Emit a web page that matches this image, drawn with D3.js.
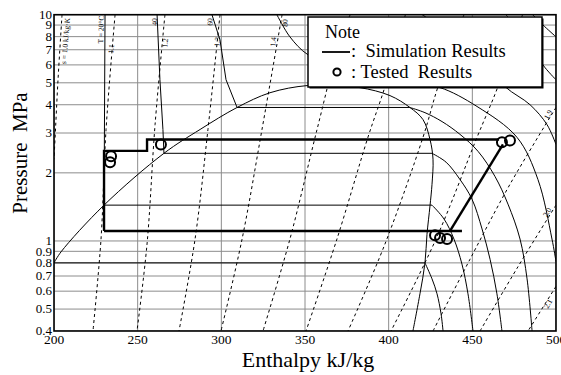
<!DOCTYPE html>
<html>
<head>
<meta charset="utf-8">
<script src="https://cdn.jsdelivr.net/npm/d3@7"></script>
<style>
  body { margin: 0; background: #fff; }
  svg text { font-family: "Liberation Serif", "Times New Roman", serif; fill: #000; }
</style>
</head>
<body>
<svg id="chart" width="561" height="375" font-family="Liberation Serif"></svg>
<script>
// ---- axes ----
const hTicks = [200, 250, 300, 350, 400, 450, 500];
const pTicks = [0.4, 0.5, 0.6, 0.7, 0.8, 0.9, 1, 2, 3, 4, 5, 6, 7, 8, 9, 10];

// ---- saturation dome [h kJ/kg, P MPa] ----
const satLiquid = [[200, 0.80], [204.2, 0.895], [229.9, 1.44], [265.7, 2.44], [287.3, 3.11],
  [309.4, 3.89], [329.1, 4.52], [351.2, 4.86], [367.9, 4.83]];
const satVapor = [[367.9, 4.83], [382.9, 4.76], [400.8, 4.39], [412.7, 3.89], [420.5, 3.44],
  [424.7, 2.81], [426.5, 2.30], [425.9, 1.78], [424.7, 1.43], [422.9, 1.07], [421.7, 0.80],
  [418.7, 0.584], [414.5, 0.40]];

// ---- isotherms: liquid branch, vapour branch (joined by the flat two-phase part) ----
const isoT0 = { liquid: [[200, 0.80]],
  vapor: [[421.7, 0.80], [425.9, 0.68], [428.9, 0.584], [431.3, 0.477], [432.5, 0.40]] };
const isoT20 = { liquid: [[230.5, 10], [229.9, 1.44]],
  vapor: [[425.9, 1.44], [433.1, 1.25], [439.0, 1.02], [443.8, 0.79], [447.4, 0.584], [450.4, 0.40]] };
const isoT40 = { liquid: [[261.6, 10], [263.3, 5.16], [265.1, 3.11], [265.7, 2.44]],
  vapor: [[425.9, 2.44], [434.3, 2.23], [442.6, 1.87], [449.8, 1.53], [455.8, 1.13], [460.6, 0.83],
    [464.7, 0.584], [467.7, 0.40]] };
const isoT60 = { liquid: [[294.4, 10], [299.2, 7.74], [302.8, 5.16], [309.4, 3.89]],
  vapor: [[412.7, 3.89], [421.7, 3.69], [431.9, 3.37], [442.6, 2.96], [453.4, 2.49], [463.5, 1.93],
    [471.3, 1.455], [478.5, 1.02], [482.7, 0.68], [485.7, 0.40]] };
// supercritical isotherms
const isoT80 = [[333.3, 9.97], [341, 7.98], [351.8, 6.65], [371, 5.83], [394.8, 5.27], [415.7, 4.91],
  [430.7, 4.76], [452.8, 3.93], [476.7, 2.87], [489.2, 1.87], [497.6, 1.02], [500, 0.81]];
const isoT100 = [[420, 10], [450, 7.0], [469.5, 4.81], [484.5, 4.0], [494.6, 3.27], [500, 2.67]];
const isoT120 = [[470, 10], [485, 7.5], [492.2, 6.0], [500, 5.16]];
const isoT140 = [[486, 10], [492.2, 9.01], [500, 7.98]];

// ---- isentropes (dashed), s = 1.0 ... 2.1 kJ/kg·K ----
const isoS = [
  [[204.8, 10], [202.4, 5.16], [200.6, 2.81], [200, 2.30]],
  [[236.5, 10], [231.1, 3.11], [228.1, 1.02], [223.3, 0.40]],
  [[266.3, 10], [260.4, 3.27], [255.6, 0.97], [249.6, 0.40]],
  [[299.2, 10], [292.0, 3.11], [284.3, 1.02], [274.7, 0.40]],
  [[336.3, 10], [324.3, 3.11], [312.4, 1.02], [299.8, 0.40]],
  [[377, 10], [371, 7.74], [357.2, 3.11], [341.0, 1.02], [324.9, 0.40]],
  [[410, 10], [397.8, 4.81], [387.6, 2.87], [369.1, 1.02], [350.6, 0.40]],
  [[445, 10], [429.5, 4.81], [420.5, 2.87], [397.8, 0.97], [375.7, 0.40]],
  [[480, 10], [465.3, 4.81], [452.8, 2.87], [428.3, 1.02], [401.4, 0.40]],
  [[500, 3.89], [472.5, 1.78], [448.6, 0.83], [426.5, 0.40]],
  [[500, 1.44], [477.3, 0.77], [454.6, 0.40]],
  [[500, 0.63], [483.3, 0.40]]
];

// ---- cycle (simulation) ----
const cycleHigh = [[229.9, 1.107], [229.9, 2.50], [255.6, 2.50], [255.6, 2.81], [466, 2.81]];
const cycleLow = [[229.9, 1.107], [443.8, 1.107]];
const cycleComp = [[436.7, 1.107], [468.3, 2.67]];

// ---- tested points ----
const tested = [[234.1, 2.37], [233.5, 2.23], [263.9, 2.67], [467.7, 2.73], [472.5, 2.78],
  [427.7, 1.06], [430.7, 1.03], [434.9, 1.02]];

// ---- curve labels [text, h, P] ----
const tLabels = [["T = 20°C", 228.0, 8.6], ["40", 260.0, 9.29], ["60", 293.2, 9.29], ["80", 338.0, 9.19]];
const sTopLabels = [["s = 1.0 kJ/kg·K", 206.8, 7.66], ["1.1", 234.1, 7.06], ["1.2", 266.3, 7.51],
  ["1.3", 297.4, 7.59], ["1.4", 330.9, 7.59]];
const sSideLabels = [["1.9", 495.2, 3.62], ["2.0", 494.6, 1.34], ["2.1", 495.2, 0.528]];

const svg = d3.select('#chart');
const mLeft = 54, mRight = 556, mTop = 14.7, mBottom = 331;
const x = d3.scaleLinear().domain([200, 500]).range([mLeft, mRight]);
const y = d3.scaleLog().domain([0.4, 10]).range([mBottom, mTop]);

svg.append('defs').append('clipPath').attr('id', 'plot')
  .append('rect').attr('x', mLeft).attr('y', mTop).attr('width', mRight - mLeft).attr('height', mBottom - mTop);

const g = svg.append('g');
const plot = g.append('g').attr('clip-path', 'url(#plot)');

// grid
plot.selectAll('.hgrid').data(pTicks).enter().append('line')
  .attr('x1', mLeft).attr('x2', mRight)
  .attr('y1', d => y(d)).attr('y2', d => y(d))
  .attr('stroke', '#8c8c8c').attr('stroke-width', 1);
plot.selectAll('.vgrid').data(hTicks).enter().append('line')
  .attr('y1', mTop).attr('y2', mBottom)
  .attr('x1', d => x(d)).attr('x2', d => x(d))
  .attr('stroke', '#8c8c8c').attr('stroke-width', 1);

const smooth = d3.line().x(d => x(d[0])).y(d => y(d[1])).curve(d3.curveCatmullRom);
const straight = d3.line().x(d => x(d[0])).y(d => y(d[1]));

// isentropes
plot.selectAll('.isoS').data(isoS).enter().append('path')
  .attr('d', smooth).attr('fill', 'none').attr('stroke', '#000')
  .attr('stroke-width', 1).attr('stroke-dasharray', '3,3');

// dome
plot.append('path').attr('d', smooth(satLiquid.concat(satVapor.slice(1))))
  .attr('fill', 'none').attr('stroke', '#000').attr('stroke-width', 1);

// isotherms
[isoT0, isoT20, isoT40, isoT60].forEach(t => {
  plot.append('path').attr('d', straight(t.liquid.concat([t.vapor[0]])))
    .attr('fill', 'none').attr('stroke', '#000').attr('stroke-width', 1);
  plot.append('path').attr('d', smooth(t.vapor))
    .attr('fill', 'none').attr('stroke', '#000').attr('stroke-width', 1);
});
[isoT80, isoT100, isoT120, isoT140].forEach(t => {
  plot.append('path').attr('d', smooth(t))
    .attr('fill', 'none').attr('stroke', '#000').attr('stroke-width', 1);
});

// cycle
[cycleHigh, cycleLow, cycleComp].forEach(c => {
  plot.append('path').attr('d', straight(c))
    .attr('fill', 'none').attr('stroke', '#000').attr('stroke-width', 2.4);
});

// tested points
plot.selectAll('.pt').data(tested).enter().append('circle')
  .attr('cx', d => x(d[0])).attr('cy', d => y(d[1])).attr('r', 5)
  .attr('fill', 'none').attr('stroke', '#000').attr('stroke-width', 2);

// curve labels
const rotLabel = (arr, angle) => {
  plot.selectAll(null).data(arr).enter().append('text')
    .attr('transform', d => `translate(${x(d[1])},${y(d[2])}) rotate(${angle})`)
    .attr('text-anchor', 'middle').attr('dy', '0.35em').attr('font-size', 7.5).text(d => d[0]);
};
rotLabel(tLabels, -88);
rotLabel(sTopLabels, -85);
rotLabel(sSideLabels, -60);

// frame
g.append('rect').attr('x', mLeft).attr('y', mTop).attr('width', mRight - mLeft).attr('height', mBottom - mTop)
  .attr('fill', 'none').attr('stroke', '#000').attr('stroke-width', 1.6);

// tick labels
g.selectAll('.ylab').data(pTicks).enter().append('text')
  .attr('x', mLeft - 2).attr('y', d => y(d) + 4.3)
  .attr('text-anchor', 'end').attr('font-size', 13).text(d => d);
g.selectAll('.xlab').data(hTicks).enter().append('text')
  .attr('x', d => x(d)).attr('y', mBottom + 13)
  .attr('text-anchor', 'middle').attr('font-size', 13.5).text(d => d);

// axis titles
g.append('text').attr('x', 308).attr('y', 367).attr('text-anchor', 'middle')
  .attr('font-size', 22).text('Enthalpy kJ/kg');
g.append('text').attr('transform', 'translate(27,153) rotate(-90)').attr('text-anchor', 'middle')
  .attr('font-size', 21).attr('xml:space', 'preserve').text('Pressure  MPa');

// legend
const lg = g.append('g').attr('transform', 'translate(308,17)');
lg.append('rect').attr('x', 1.5).attr('y', 1.5).attr('width', 234).attr('height', 70).attr('fill', '#000');
lg.append('rect').attr('width', 234).attr('height', 70).attr('fill', '#fff')
  .attr('stroke', '#000').attr('stroke-width', 1.5);
lg.append('text').attr('x', 17).attr('y', 21).attr('font-size', 18).text('Note');
lg.append('line').attr('x1', 14).attr('x2', 42).attr('y1', 35).attr('y2', 35)
  .attr('stroke', '#000').attr('stroke-width', 1.8);
lg.append('text').attr('x', 43).attr('y', 40).attr('font-size', 18.5)
  .attr('xml:space', 'preserve').text(':  Simulation Results');
lg.append('circle').attr('cx', 29).attr('cy', 55).attr('r', 3.6)
  .attr('fill', 'none').attr('stroke', '#000').attr('stroke-width', 2);
lg.append('text').attr('x', 43).attr('y', 61).attr('font-size', 18.5)
  .attr('xml:space', 'preserve').text(': Tested  Results');
</script>
</body>
</html>
